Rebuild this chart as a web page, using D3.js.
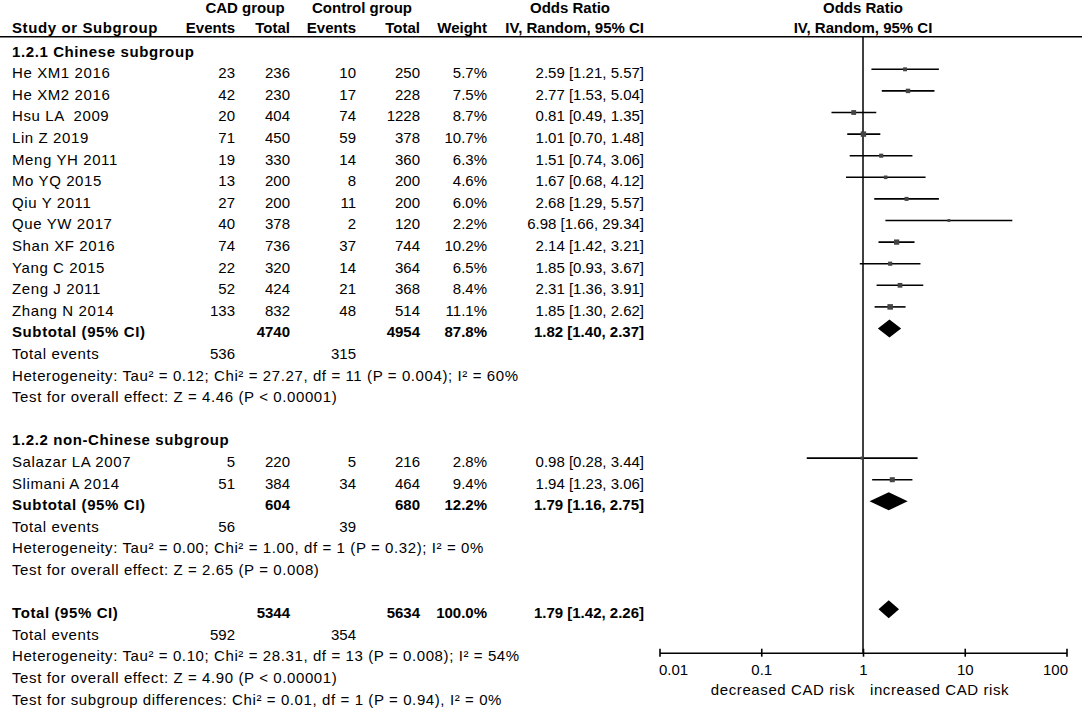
<!DOCTYPE html>
<html>
<head>
<meta charset="utf-8">
<script src="https://cdn.jsdelivr.net/npm/d3@7/dist/d3.min.js"></script>
<style>
  html, body { margin: 0; padding: 0; background: #fff; }
  svg { display: block; }
  text { font-family: "Liberation Sans", Arial, Helvetica, sans-serif; font-size: 15px; fill: #000; white-space: pre; }
  .b { font-weight: bold; }
  .lbl { letter-spacing: 0.6px; }
</style>
</head>
<body>
<svg id="chart" width="1084" height="710"></svg>
<script>
// ---------- data ----------
const studies = ["He XM1 2016", "He XM2 2016", "Hsu LA  2009", "Lin Z 2019", "Meng YH 2011", "Mo YQ 2015",
  "Qiu Y 2011", "Que YW 2017", "Shan XF 2016", "Yang C 2015", "Zeng J 2011", "Zhang N 2014",
  "Salazar LA 2007", "Slimani A 2014"];
const studyGroup = [0,0,0,0,0,0,0,0,0,0,0,0,1,1];
const cadEvents  = [23, 42, 20, 71, 19, 13, 27, 40, 74, 22, 52, 133, 5, 51];
const cadTotal   = [236, 230, 404, 450, 330, 200, 200, 378, 736, 320, 424, 832, 220, 384];
const ctrlEvents = [10, 17, 74, 59, 14, 8, 11, 2, 37, 14, 21, 48, 5, 34];
const ctrlTotal  = [250, 228, 1228, 378, 360, 200, 200, 120, 744, 364, 368, 514, 216, 464];
const weights    = [5.7, 7.5, 8.7, 10.7, 6.3, 4.6, 6.0, 2.2, 10.2, 6.5, 8.4, 11.1, 2.8, 9.4];
const oddsRatio  = [2.59, 2.77, 0.81, 1.01, 1.51, 1.67, 2.68, 6.98, 2.14, 1.85, 2.31, 1.85, 0.98, 1.94];
const ciLow      = [1.21, 1.53, 0.49, 0.70, 0.74, 0.68, 1.29, 1.66, 1.42, 0.93, 1.36, 1.30, 0.28, 1.23];
const ciHigh     = [5.57, 5.04, 1.35, 1.48, 3.06, 4.12, 5.57, 29.34, 3.21, 3.67, 3.91, 2.62, 3.44, 3.06];

const subgroupNames = ["1.2.1 Chinese subgroup", "1.2.2 non-Chinese subgroup"];
const subCadTotal   = [4740, 604];
const subCtrlTotal  = [4954, 680];
const subWeight     = [87.8, 12.2];
const subOR         = [1.82, 1.79];
const subLow        = [1.40, 1.16];
const subHigh       = [2.37, 2.75];
const subCadEvents  = [536, 56];
const subCtrlEvents = [315, 39];
const subHetText    = ["Heterogeneity: Tau² = 0.12; Chi² = 27.27, df = 11 (P = 0.004); I² = 60%",
                       "Heterogeneity: Tau² = 0.00; Chi² = 1.00, df = 1 (P = 0.32); I² = 0%"];
const subTestText   = ["Test for overall effect: Z = 4.46 (P < 0.00001)",
                       "Test for overall effect: Z = 2.65 (P = 0.008)"];

const totalCad = 5344, totalCtrl = 5634, totalWeight = 100.0;
const totalOR = 1.79, totalLow = 1.42, totalHigh = 2.26;
const totalCadEvents = 592, totalCtrlEvents = 354;
const totalTexts = ["Heterogeneity: Tau² = 0.10; Chi² = 28.31, df = 13 (P = 0.008); I² = 54%",
                    "Test for overall effect: Z = 4.90 (P < 0.00001)",
                    "Test for subgroup differences: Chi² = 0.01, df = 1 (P = 0.94), I² = 0%"];

const tickValues = [0.01, 0.1, 1, 10, 100];
const tickLabels = ["0.01", "0.1", "1", "10", "100"];
const favourLeft = "decreased CAD risk", favourRight = "increased CAD risk";

// ---------- layout ----------
const svg = d3.select("#chart");
const row = d3.scaleLinear().domain([0, 30]).range([47.7, 695.7]);
const x = d3.scaleLog().domain([0.01, 100]).range([659.5, 1066.5]);
const TXT = 8.8; // baseline offset from row centre
const col = { name: 12, cadE: 235, cadT: 290, ctlE: 356, ctlT: 420, w: 487, ci: 644 };
const f2 = d3.format(".2f"), f1 = d3.format(".1f");
const ciStr = (o, l, h) => `${f2(o)} [${f2(l)}, ${f2(h)}]`;

function txt(xp, y, s, anchor, bold, label) {
  const cls = [bold ? "b" : "", label ? "lbl" : ""].join(" ").trim();
  return svg.append("text").attr("x", xp).attr("y", y)
    .attr("text-anchor", anchor || "start").attr("class", cls || null).text(s);
}

// header
txt(245, 12.5, "CAD group", "middle", true);
txt(362, 12.5, "Control group", "middle", true);
txt(570, 12.5, "Odds Ratio", "middle", true);
txt(x(1), 12.5, "Odds Ratio", "middle", true);
txt(col.name, 32.7, "Study or Subgroup", "start", true, true);
txt(col.cadE, 32.7, "Events", "end", true);
txt(col.cadT, 32.7, "Total", "end", true);
txt(col.ctlE, 32.7, "Events", "end", true);
txt(col.ctlT, 32.7, "Total", "end", true);
txt(col.w, 32.7, "Weight", "end", true);
txt(col.ci, 32.7, "IV, Random, 95% CI", "end", true);
txt(x(1), 32.7, "IV, Random, 95% CI", "middle", true);
svg.append("line").attr("x1", 0).attr("x2", 1082).attr("y1", 36.7).attr("y2", 36.7)
  .attr("stroke", "#000").attr("stroke-width", 1.6);

// vertical line of no effect
const axisY = 652.7;
svg.append("line").attr("x1", x(1)).attr("x2", x(1)).attr("y1", 37).attr("y2", axisY)
  .attr("stroke", "#000").attr("stroke-width", 1.5);

// row assignment
const groupStart = [0, 18];
let studyRows = [];
let counters = [0, 0];
studies.forEach((s, i) => {
  const g = studyGroup[i];
  counters[g] += 1;
  studyRows.push(groupStart[g] + counters[g]);
});

// studies
studies.forEach((s, i) => {
  const y = row(studyRows[i]);
  txt(col.name, y + TXT, s, "start", false, true);
  txt(col.cadE, y + TXT, cadEvents[i], "end");
  txt(col.cadT, y + TXT, cadTotal[i], "end");
  txt(col.ctlE, y + TXT, ctrlEvents[i], "end");
  txt(col.ctlT, y + TXT, ctrlTotal[i], "end");
  txt(col.w, y + TXT, f1(weights[i]) + "%", "end");
  txt(col.ci, y + TXT, ciStr(oddsRatio[i], ciLow[i], ciHigh[i]), "end");
  svg.append("line").attr("x1", x(ciLow[i])).attr("x2", x(ciHigh[i]))
    .attr("y1", y).attr("y2", y).attr("stroke", "#000").attr("stroke-width", 1.6);
  const side = 2.2 + weights[i] * 0.3;
  svg.append("rect").attr("x", x(oddsRatio[i]) - side / 2).attr("y", y - side / 2)
    .attr("width", side).attr("height", side).attr("fill", "#444");
});

function diamond(o, l, h, y) {
  const pts = [[x(l), y], [x(o), y - 9], [x(h), y], [x(o), y + 9]];
  svg.append("path").attr("d", "M" + pts.map(p => p.join(",")).join("L") + "Z").attr("fill", "#000");
}

// subgroups
subgroupNames.forEach((name, g) => {
  const r0 = groupStart[g];
  const n = studyGroup.filter(v => v === g).length;
  txt(col.name, row(r0) + TXT, name, "start", true, true);
  const ys = row(r0 + n + 1);
  txt(col.name, ys + TXT, "Subtotal (95% CI)", "start", true, true);
  txt(col.cadT, ys + TXT, subCadTotal[g], "end", true);
  txt(col.ctlT, ys + TXT, subCtrlTotal[g], "end", true);
  txt(col.w, ys + TXT, f1(subWeight[g]) + "%", "end", true);
  txt(col.ci, ys + TXT, ciStr(subOR[g], subLow[g], subHigh[g]), "end", true);
  diamond(subOR[g], subLow[g], subHigh[g], ys);
  const ye = row(r0 + n + 2);
  txt(col.name, ye + TXT, "Total events", "start", false, true);
  txt(col.cadE, ye + TXT, subCadEvents[g], "end");
  txt(col.ctlE, ye + TXT, subCtrlEvents[g], "end");
  txt(col.name, row(r0 + n + 3) + TXT, subHetText[g], "start", false, true);
  txt(col.name, row(r0 + n + 4) + TXT, subTestText[g], "start", false, true);
});

// overall total
const yt = row(26);
txt(col.name, yt + TXT, "Total (95% CI)", "start", true, true);
txt(col.cadT, yt + TXT, totalCad, "end", true);
txt(col.ctlT, yt + TXT, totalCtrl, "end", true);
txt(col.w, yt + TXT, f1(totalWeight) + "%", "end", true);
txt(col.ci, yt + TXT, ciStr(totalOR, totalLow, totalHigh), "end", true);
diamond(totalOR, totalLow, totalHigh, yt);
txt(col.name, row(27) + TXT, "Total events", "start", false, true);
txt(col.cadE, row(27) + TXT, totalCadEvents, "end");
txt(col.ctlE, row(27) + TXT, totalCtrlEvents, "end");
totalTexts.forEach((t, i) => txt(col.name, row(28 + i) + TXT, t, "start", false, true));

// axis
const axis = d3.axisBottom(x).tickValues(tickValues)
  .tickFormat((d, i) => tickLabels[i]).tickSize(4).tickSizeOuter(0);
const ag = svg.append("g").attr("transform", `translate(0,${axisY})`).call(axis);
ag.select(".domain").attr("stroke", "#000").attr("stroke-width", 1.6);
ag.selectAll(".tick line").attr("y1", -4).attr("y2", 4).attr("stroke", "#000").attr("stroke-width", 1.6);
ag.selectAll(".tick text").attr("y", 22.5).attr("dy", null)
  .attr("text-anchor", (d, i) => i === 0 ? "start" : (i === tickValues.length - 1 ? "end" : "middle"))
  .attr("dx", (d, i) => i === 0 ? -1 : (i === tickValues.length - 1 ? 1 : 0));
ag.attr("font-family", null).attr("font-size", null);

txt(x(1) - 8, 694.5, favourLeft, "end", false, true);
txt(x(1) + 7, 694.5, favourRight, "start", false, true);
</script>
</body>
</html>
